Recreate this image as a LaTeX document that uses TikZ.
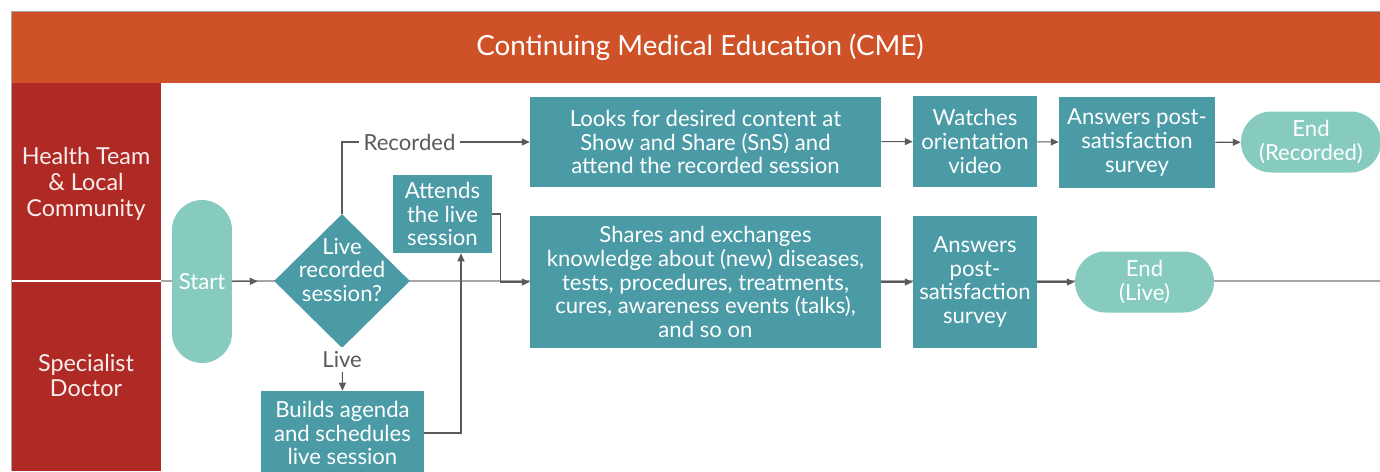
\documentclass[tikz,border=0pt]{standalone}
\usepackage{fontspec}
\setmainfont{Lato}
\usetikzlibrary{arrows.meta,shapes.geometric}

\definecolor{cmeorange}{HTML}{CE5127}
\definecolor{lanered}{HTML}{B02A25}
\definecolor{stepteal}{HTML}{4A9BA5}
\definecolor{termteal}{HTML}{86CBBE}
\definecolor{linegray}{HTML}{A6A6A6}
\definecolor{arrowgray}{HTML}{5A5A5A}

\begin{document}
\begin{tikzpicture}[x=0.02cm,y=-0.02cm,
	every node/.style={font=\fontsize{12.6}{13.6}\selectfont, align=center, inner sep=0pt},
	stepbox/.style={rectangle, fill=stepteal, text=white},
	term/.style={rectangle, fill=termteal, text=white},
	decision/.style={diamond, fill=stepteal, minimum width=2.72cm, minimum height=2.68cm},
	lanehead/.style={text=white!92!lanered, font=\fontsize{13.3}{14.7}\selectfont},
	conn/.style={draw=arrowgray, line width=0.6pt, -{Triangle[length=4.5pt,width=4pt]}},
	branch/.style={fill=white, text=arrowgray, inner sep=2.5pt}]
	\useasboundingbox (0,0) rectangle (1380,471);
	%% frame, title band and lanes
	\fill[white] (0,0) rectangle (1380,471);
	\draw[linegray, line width=0.8pt] (11.5,471) -- (11.5,11.5) -- (1380,11.5);
	\fill[cmeorange] (12,12) rectangle (1380,83);
	\node[text=white, font=\fontsize{15.8}{18}\selectfont] (title) at (700,47) {Continuing Medical Education (CME)};
	\fill[lanered] (12,83) rectangle (161,471);
	\draw[linegray, line width=0.8pt] (161,281) -- (1380,281);
	\draw[white, line width=0.8pt] (12,281) -- (161,281);
	\node[lanehead] (laneA) at (86,184) {Health Team\\\& Local\\Community};
	\node[lanehead] (laneB) at (86,375.5) {Specialist\\Doctor};

	%% steps
	\node[term, minimum width=1.2cm, minimum height=3.26cm, rounded corners=0.6cm] (start) at (202,281.5) {Start};
	\node[decision, label={[text=white, yshift=0.22cm]center:{Live\\recorded\\session?}}] (dec) at (342,281) {};
	\node[stepbox, minimum width=1.98cm, minimum height=1.56cm] (attend) at (442.5,214) {Attends\\the live\\session};
	\node[stepbox, minimum width=3.26cm, minimum height=1.68cm] (builds) at (342.5,433) {Builds agenda\\and schedules\\live session};
	\node[stepbox, minimum width=7.02cm, minimum height=1.82cm] (looks) at (705.5,142) {Looks for desired content at\\Show and Share (SnS) and\\attend the recorded session};
	\node[stepbox, minimum width=2.48cm, minimum height=1.82cm] (watch) at (975,141.5) {Watches\\orientation\\video};
	\node[stepbox, minimum width=3.12cm, minimum height=1.82cm] (ansrec) at (1137,142.5) {Answers post-\\satisfaction\\survey};
	\node[term, minimum width=2.8cm, minimum height=1.22cm, rounded corners=0.61cm] (endrec) at (1311,142) {End\\(Recorded)};
	\node[stepbox, minimum width=7.02cm, minimum height=2.64cm] (shares) at (705.5,282) {Shares and exchanges\\knowledge about (new) diseases,\\tests, procedures, treatments,\\cures, awareness events (talks),\\and so on};
	\node[stepbox, minimum width=2.48cm, minimum height=2.64cm] (anslive) at (975,282) {Answers\\post-\\satisfaction\\survey};
	\node[term, minimum width=2.78cm, minimum height=1.22cm, rounded corners=0.61cm] (endlive) at (1144.5,282) {End\\(Live)};

	%% connectors
	\draw[conn, shorten >=0.32cm] (start.east) -- (dec.west);
	\draw[conn] (dec.north) |- node[branch, pos=0.68] {Recorded} (looks.west);
	\draw[conn] (dec.south) -- node[branch, pos=0.27] {Live} (builds.north);
	\draw[conn] (builds.east) -| ([xshift=0.37cm]attend.south);
	\draw[conn] (attend.east) -- ++(8,0) |- (shares.west);
	\draw[conn] (looks) -- (watch);
	\draw[conn] (watch) -- (ansrec);
	\draw[conn] (ansrec) -- (endrec);
	\draw[conn] (shares) -- (anslive);
	\draw[conn] (anslive) -- (endlive);
\end{tikzpicture}
\end{document}
